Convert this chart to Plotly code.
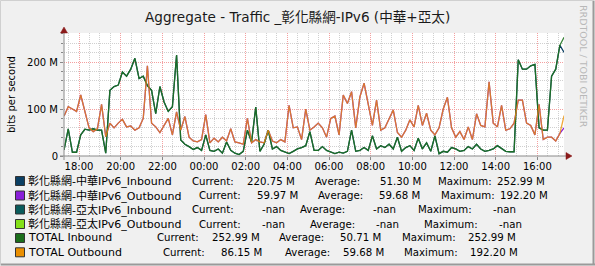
import pandas as pd
import plotly.graph_objects as go

# ---------------- data ----------------
start = pd.Timestamp("2024-05-20 17:17")
times = pd.date_range(start, periods=121, freq="12min")

total_in = [13, 58, 8, 8, 45, 57, 55, 58, 55, 55,
            6, 140, 148, 151, 179, 170, 185, 208, 165, 170,
            150, 140, 90, 148, 115, 95, 105, 215, 34, 25,
            20, 14, 18, 12, 45, 12, 10, 15, 6, 30,
            12, 6, 3, 10, 55, 30, 104, 10, 25, 55,
            15, 20, 12, 8, 5, 10, 15, 18, 22, 52,
            12, 12, 20, 12, 8, 5, 8, 6, 10, 55,
            10, 12, 18, 12, 43, 15, 22, 18, 25, 15,
            40, 10, 18, 22, 12, 38, 15, 28, 10, 43,
            5, 10, 8, 18, 15, 10, 12, 20, 15, 25,
            15, 10, 12, 15, 22, 15, 10, 9, 9, 205,
            185, 185, 192, 195, 60, 55, 55, 170, 185, 236,
            252.99]

total_out = [85, 105, 100, 95, 130, 94, 60, 52, 58, 110,
             41, 70, 60, 70, 78, 62, 64, 55, 60, 80,
             192.2, 70, 62, 50, 65, 80, 45, 94, 55, 84,
             40, 32, 30, 35, 88, 28, 38, 30, 40, 32,
             58, 30, 28, 25, 80, 28, 35, 30, 28, 55,
             32, 28, 35, 30, 108, 60, 62, 35, 100, 55,
             62, 70, 60, 40, 80, 85, 45, 130, 112, 137,
             60, 126, 155, 110, 65, 119, 55, 60, 80, 98,
             50, 40, 55, 77, 62, 108, 65, 91, 55, 45,
             60, 100, 125, 60, 40, 52, 35, 62, 35, 90,
             65, 62, 158, 70, 62, 108, 55, 58, 70, 119,
             119, 70, 65, 45, 110, 35, 40, 40, 32, 48,
             86.15]

# 中華 series equal the totals except for the final sample
cht_in = total_in[:-1] + [220.75]
cht_out = total_out[:-1] + [59.97]

y_tick_vals = [0, 100, 200]
y_tick_text = ["0", "100 M", "200 M"]

legend_names = ["彰化縣網-中華IPv6_Inbound", "彰化縣網-中華IPv6_Outbound",
                "彰化縣網-亞太IPv6_Inbound", "彰化縣網-亞太IPv6_Outbound",
                "TOTAL Inbound", "TOTAL Outbound"]
legend_current = ["220.75 M", "59.97 M", "-nan", "-nan", "252.99 M", "86.15 M"]
legend_average = ["51.30 M", "59.68 M", "-nan", "-nan", "50.71 M", "59.68 M"]
legend_maximum = ["252.99 M", "192.20 M", "-nan", "-nan", "252.99 M", "192.20 M"]

# ---------------- styles / layout ----------------
legend_colors = ["#0B3F63", "#8A1FD8", "#0A5C5C", "#84E018", "#1B6E1B", "#EA8F00"]
FONT = "DejaVu Sans, Noto Sans CJK TC, sans-serif"

L, R, T, B = 64, 564, 33, 156
W, H = R - L, B - T


def PX(x):
    return (x - L) / W


def PY(y):
    return (B - y) / H


x0 = pd.Timestamp("2024-05-20 17:16:48")
x1 = x0 + pd.Timedelta(hours=24)

fig = go.Figure()
fig.add_trace(go.Scatter(x=times, y=cht_in, mode="lines",
                         line=dict(color="#0B3F63", width=1.3), hoverinfo="skip"))
fig.add_trace(go.Scatter(x=times, y=cht_out, mode="lines",
                         line=dict(color="#8A1FD8", width=1.3), hoverinfo="skip"))
fig.add_trace(go.Scatter(x=times, y=total_in, mode="lines", opacity=0.88,
                         line=dict(color="#1E741E", width=1.3), hoverinfo="skip"))
fig.add_trace(go.Scatter(x=times, y=total_out, mode="lines", opacity=0.78,
                         line=dict(color="#EE9000", width=1.3), hoverinfo="skip"))

grid_minor = "#D0D0D0"
grid_major = "#F4A0A0"

fig.update_xaxes(
    type="date", range=[x0, x1], tickformat="%H:%M",
    tick0="2024-05-20 18:00", dtick=2 * 3600 * 1000,
    showgrid=True, gridcolor=grid_major, griddash="1px,1px", gridwidth=1,
    ticks="outside", ticklen=3, tickcolor="#888888", ticklabelstandoff=-2,
    tickfont=dict(family=FONT, size=10, color="#000000"),
    minor=dict(tick0="2024-05-20 18:00", dtick=30 * 60 * 1000, showgrid=True,
               gridcolor=grid_minor, griddash="1px,1px", ticks=""),
    showline=False, zeroline=False, fixedrange=True,
)
fig.update_yaxes(
    range=[0, 262], tickmode="array", tickvals=y_tick_vals, ticktext=y_tick_text,
    showgrid=True, gridcolor=grid_major, griddash="1px,1px", gridwidth=1,
    ticks="outside", ticklen=3, tickcolor="#888888",
    tickfont=dict(family=FONT, size=10, color="#000000"),
    minor=dict(tickmode="linear", tick0=0, dtick=20, showgrid=True,
               gridcolor=grid_minor, griddash="1px,1px", ticks="outside",
               ticklen=2, tickcolor="#888888"),
    showline=False, zeroline=False, fixedrange=True,
)

shapes = []
# outer frame (3D look)
shapes.append(dict(type="line", xref="paper", yref="paper", x0=PX(0.5), x1=PX(594.5),
                   y0=PY(0.5), y1=PY(0.5), line=dict(color="#D0D0D0", width=1)))
shapes.append(dict(type="line", xref="paper", yref="paper", x0=PX(0.5), x1=PX(0.5),
                   y0=PY(0.5), y1=PY(265.5), line=dict(color="#D0D0D0", width=1)))
shapes.append(dict(type="line", xref="paper", yref="paper", x0=PX(593.5), x1=PX(593.5),
                   y0=PY(1), y1=PY(265), line=dict(color="#9A9A9A", width=2)))
shapes.append(dict(type="line", xref="paper", yref="paper", x0=PX(1), x1=PX(595),
                   y0=PY(264.5), y1=PY(264.5), line=dict(color="#9A9A9A", width=2)))
# axes
shapes.append(dict(type="line", xref="paper", yref="paper", x0=PX(60), x1=PX(567),
                   y0=PY(156), y1=PY(156), line=dict(color="#8A8A8A", width=1)))
shapes.append(dict(type="line", xref="paper", yref="paper", x0=PX(64), x1=PX(64),
                   y0=PY(160), y1=PY(30), line=dict(color="#8A8A8A", width=1)))
# arrows
shapes.append(dict(type="path", xref="paper", yref="paper",
                   path=f"M {PX(566)},{PY(152.5)} L {PX(572)},{PY(156)} L {PX(566)},{PY(159.5)} Z",
                   fillcolor="#8B1A1A", line=dict(color="#8B1A1A", width=0.5)))
shapes.append(dict(type="path", xref="paper", yref="paper",
                   path=f"M {PX(60.5)},{PY(33)} L {PX(64)},{PY(27)} L {PX(67.5)},{PY(33)} Z",
                   fillcolor="#8B1A1A", line=dict(color="#8B1A1A", width=0.5)))

row_y = [181, 195.5, 209.5, 224, 238, 252.3]
for ry, c in zip(row_y, legend_colors):
    shapes.append(dict(type="rect", xref="paper", yref="paper",
                       x0=PX(15.5), x1=PX(24.5), y0=PY(ry - 4.5), y1=PY(ry + 4.5),
                       fillcolor=c, line=dict(color="#333333", width=1)))

ann = []
ann.append(dict(text="Aggregate - Traffic _彰化縣網-IPv6 (中華+亞太)", x=PX(297.5), y=PY(17),
                xanchor="center", yanchor="middle",
                font=dict(family=FONT, size=13.6, color="#1A1A1A")))
ann.append(dict(text="bits per second", x=PX(11), y=PY(95), textangle=-90,
                xanchor="center", yanchor="middle",
                font=dict(family=FONT, size=10, color="#000000")))
ann.append(dict(text="RRDTOOL / TOBI OETIKER", x=PX(583.5), y=PY(5), textangle=90,
                xanchor="center", yanchor="top",
                font=dict(family=FONT, size=9.5, color="#B8B8B8")))

cur_label_x = [192.3, 199, 192.3, 199, 156.7, 162.7]
cur_val_x = [247.3, 257.3, 261.7, 261.7, 211.7, 221]
avg_label_x = [315, 318.3, 300, 310, 279, 285]
avg_val_x = [380, 379.3, 372.7, 376, 340, 343.3]
max_label_x = [437.7, 440.7, 418.3, 424.3, 401.7, 404.3]
max_val_x = [496.5, 499.5, 492.7, 498.7, 467.5, 470]

for k in range(6):
    ann.append(dict(text=legend_names[k], x=PX(28.3), y=PY(row_y[k]), xanchor="left",
                    yanchor="middle", font=dict(family=FONT, size=11, color="#000000")))
    pieces = [(cur_label_x[k], "Current:"), (cur_val_x[k], legend_current[k]),
              (avg_label_x[k], "Average:"), (avg_val_x[k], legend_average[k]),
              (max_label_x[k], "Maximum:"), (max_val_x[k], legend_maximum[k])]
    for px, txt in pieces:
        ann.append(dict(text=txt, x=PX(px), y=PY(row_y[k]), xanchor="left", yanchor="middle",
                        font=dict(family=FONT, size=10.2, color="#000000")))

for a in ann:
    a.update(xref="paper", yref="paper", showarrow=False, borderpad=0, borderwidth=0)

fig.update_layout(
    width=595, height=266, autosize=False,
    margin=dict(l=L, r=595 - R, t=T, b=266 - B, pad=0),
    paper_bgcolor="#F0F0F0", plot_bgcolor="#FFFFFF",
    showlegend=False, shapes=shapes, annotations=ann,
    font=dict(family=FONT),
)

fig.write_html("out.html", config={"displayModeBar": False})
